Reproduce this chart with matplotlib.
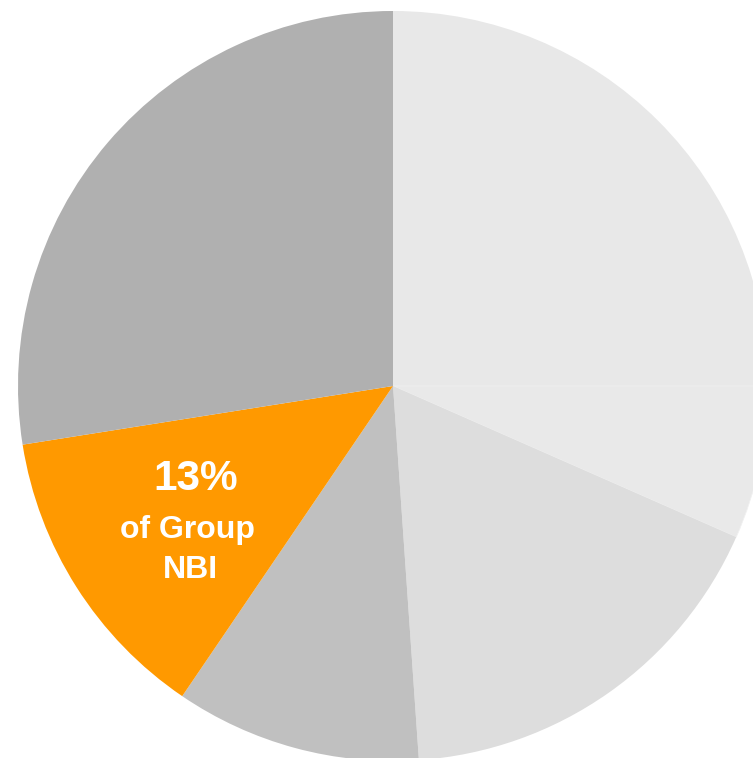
import matplotlib
matplotlib.use("Agg")
import matplotlib.pyplot as plt

# share of slices, clockwise from 12 o'clock (%)
segments = ["A", "B", "C", "D", "Group NBI", "F"]
shares = [25.0, 6.6, 17.3, 10.6, 13.0, 27.5]
colors = ["#e8e8e8", "#e9e9e9", "#dddddd", "#c0c0c0", "#ff9900", "#b0b0b0"]

highlight_pct = "13%"
highlight_lines = ["of Group", "NBI"]

plt.rcParams["font.family"] = ["Liberation Sans", "DejaVu Sans"]

fig = plt.figure(figsize=(7.53, 7.58), dpi=100)
ax = fig.add_axes([0, 0, 1, 1])
wedges, _ = ax.pie(shares, colors=colors, startangle=90, counterclock=False,
                   radius=1.0, wedgeprops=dict(linewidth=0))
# faint seam between the two lightest slices
wedges[1].set_edgecolor("#f0f0f0")
wedges[1].set_linewidth(0.6)
ax.set_xlim(-1.048, 0.960)
ax.set_ylim(-0.992, 1.0293)
ax.set_aspect("equal")
ax.axis("off")

ax.text(-0.525, -0.248, highlight_pct, color="white", fontsize=30.5,
        fontweight="bold", ha="center", va="center")
ax.text(-0.547, -0.385, highlight_lines[0], color="white", fontsize=23,
        fontweight="bold", ha="center", va="center")
ax.text(-0.541, -0.490, highlight_lines[1], color="white", fontsize=23,
        fontweight="bold", ha="center", va="center")

fig.savefig("out.png", dpi=100)
